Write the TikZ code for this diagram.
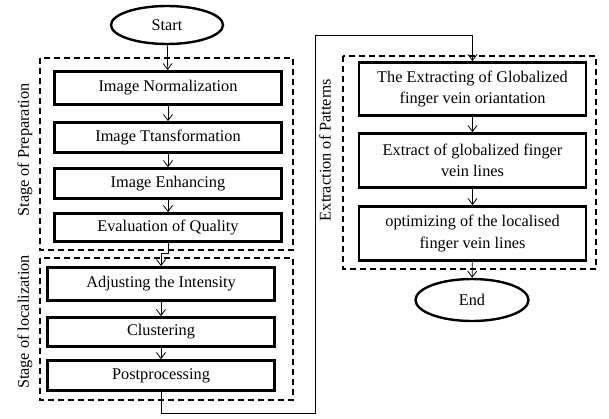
\documentclass[tikz,border=0pt]{standalone}
\usepackage{fontspec}
\setmainfont{Liberation Serif}
\usetikzlibrary{arrows.meta,shapes.geometric}
\begin{document}
\begin{tikzpicture}[x=1pt,y=-1pt,
    font=\fontsize{16.3}{21.5}\selectfont,
    stepbox/.style={draw,line width=2.8pt,minimum width=227pt,align=center,inner sep=2pt},
    term/.style={draw,ellipse,line width=2.4pt,minimum width=112pt,minimum height=38pt},
    stage/.style={draw,dashed,line width=1.3pt,dash pattern=on 6pt off 4pt},
    flow/.style={-{Straight Barb[length=6pt,width=9pt]},line width=0.8pt},
    side/.style={rotate=90}]
    \useasboundingbox (0,0) rectangle (609,418);
    \draw[stage] (40,58) rectangle (293,250);
    \draw[stage] (40,258) rectangle (293,400);
    \draw[stage] (343,56) rectangle (596,269);
    \node[term] (start) at (167,25) {Start};
    \node[stepbox,minimum height=33pt] (norm) at (168,88) {Image Normalization};
    \node[stepbox,minimum height=30pt] (trans) at (168,137.5) {Image Ttansformation};
    \node[stepbox,minimum height=30pt] (enh) at (168,183.5) {Image Enhancing};
    \node[stepbox,minimum height=28pt] (eval) at (168,227.5) {Evaluation of Quality};
    \node[stepbox,minimum height=33pt] (adj) at (161,284) {Adjusting the Intensity};
    \node[stepbox,minimum height=29pt] (clus) at (161,332) {Clustering};
    \node[stepbox,minimum height=30pt] (post) at (161,375.5) {Postprocessing};
    \node[stepbox,minimum height=53pt] (glob) at (472.5,89) {The Extracting of Globalized\\finger vein oriantation};
    \node[stepbox,minimum height=54pt] (lines) at (472.5,160.5) {Extract of globalized finger\\vein lines};
    \node[stepbox,minimum height=54pt] (optim) at (472.5,233.5) {optimizing of the localised\\finger vein lines};
    \node[term,minimum width=113pt,minimum height=42pt] (end) at (472,300) {End};
    \node[side] (prep) at (25,150) {Stage of Preparation};
    \node[side] (loc) at (25,322) {Stage of localization};
    \node[side] (pat) at (325,150) {Extraction of Patterns};
    \coordinate (c1) at (315,413);
    \coordinate (c2) at (315,35);
    \draw[flow] (start) -- (norm);
    \draw[flow] (norm) -- (trans);
    \draw[flow] (trans) -- (enh);
    \draw[flow] (enh) -- (eval);
    \draw[flow] (eval.south) -- ++(0,10) -| (adj.north);
    \draw[flow] (adj) -- (clus);
    \draw[flow] (clus) -- (post);
    \draw[flow] (post.south) |- (c1) -- (c2) -| (glob.north);
    \draw[flow] (glob) -- (lines);
    \draw[flow] (lines) -- (optim);
    \draw[flow] (optim) -- (end);
\end{tikzpicture}
\end{document}
